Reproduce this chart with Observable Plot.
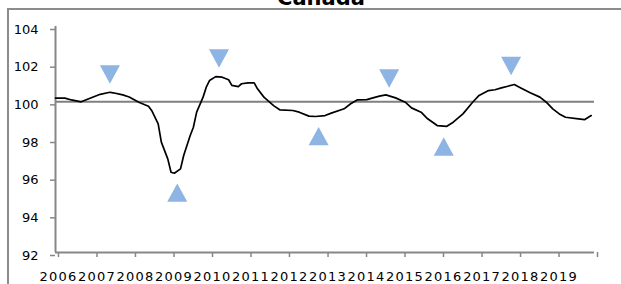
<!DOCTYPE html>
<html>
<head>
<meta charset="utf-8">
<script src="https://cdn.jsdelivr.net/npm/d3@7"></script>
<script src="https://cdn.jsdelivr.net/npm/@observablehq/plot@0.6"></script>
<style>
  html, body { margin: 0; padding: 0; background: #fff; }
  #wrap { position: relative; width: 621px; height: 284px; overflow: hidden; background: #fff; }
  #frame { position: absolute; left: 7px; top: 8px; width: 800px; height: 500px; border: 2px solid #8c8c8c; box-sizing: border-box; }
  #title { position: absolute; left: 0; width: 642px; top: -14px; text-align: center; font: bold 21px "DejaVu Sans", sans-serif; color: #000; line-height: 24px; }
  #chart { position: absolute; left: 0; top: 0; }
</style>
</head>
<body>
<div id="wrap">
  <div id="frame"></div>
  <div id="title">Canada</div>
  <div id="chart"></div>
</div>
<script>
// Monthly index (Canada)
const months = ["2006-01","2006-04","2006-06","2006-09","2006-12","2007-03","2007-06","2007-07","2007-10","2007-12",
  "2008-03","2008-06","2008-07","2008-09","2008-10","2008-12","2009-01","2009-02","2009-04","2009-05",
  "2009-07","2009-08","2009-09","2009-11","2009-12","2010-01","2010-03","2010-05","2010-07","2010-08",
  "2010-10","2010-11","2011-01","2011-03","2011-04","2011-06","2011-09","2011-11","2012-03","2012-05",
  "2012-08","2012-10","2013-01","2013-03","2013-07","2013-09","2013-11","2014-02","2014-04","2014-06",
  "2014-08","2014-11","2015-02","2015-04","2015-07","2015-09","2015-12","2016-03","2016-05","2016-08",
  "2016-11","2017-01","2017-04","2017-06","2017-08","2017-10","2017-12","2018-02","2018-05","2018-08",
  "2018-10","2018-12","2019-02","2019-04","2019-08","2019-10","2019-12"];
const values = [100.2,100.2,100.1,100.0,100.2,100.4,100.51,100.48,100.37,100.26,
  99.98,99.77,99.54,98.83,97.86,96.97,96.26,96.21,96.44,97.15,
  98.2,98.65,99.45,100.25,100.78,101.13,101.34,101.31,101.17,100.87,
  100.81,100.96,101.01,101.01,100.69,100.25,99.8,99.57,99.54,99.45,
  99.24,99.22,99.27,99.4,99.63,99.9,100.1,100.12,100.21,100.3,
  100.37,100.21,99.98,99.68,99.45,99.1,98.74,98.7,98.92,99.36,
  99.98,100.34,100.6,100.64,100.74,100.83,100.92,100.74,100.48,100.25,
  99.98,99.63,99.36,99.18,99.1,99.06,99.27];

// Turning-point markers
const peakMonths = ["2007-06","2010-04","2014-09","2017-11"];
const peakValues = [101.45,102.3,101.24,101.9];
const troughMonths = ["2009-03","2012-11","2016-02"];
const troughValues = [95.18,98.18,97.63];

// Axis ticks
const yTicks = [92,94,96,98,100,102,104];
const xTickYears = [2006,2007,2008,2009,2010,2011,2012,2013,2014,2015,2016,2017,2018,2019,2020];
const xLabelYears = [2006,2007,2008,2009,2010,2011,2012,2013,2014,2015,2016,2017,2018,2019];
const refValue = 100;

const parseMonth = s => { const [y, m] = s.split("-").map(Number); return new Date(Date.UTC(y, m - 1, 1)); };
const series = months.map((m, i) => ({date: parseMonth(m), value: values[i]}));
const peaks = peakMonths.map((m, i) => ({date: parseMonth(m), value: peakValues[i]}));
const troughs = troughMonths.map((m, i) => ({date: parseMonth(m), value: troughValues[i]}));
const xTicks = xTickYears.map(y => new Date(Date.UTC(y, 0, 1)));

const triUp = {draw(ctx) { ctx.moveTo(0, -9.2); ctx.lineTo(10, 9.2); ctx.lineTo(-10, 9.2); ctx.closePath(); }};
const triDown = {draw(ctx) { ctx.moveTo(0, 9.2); ctx.lineTo(10, -9.2); ctx.lineTo(-10, -9.2); ctx.closePath(); }};

const axisColor = "#878787";
const markerColor = "#8db4e2";

const chart = Plot.plot({
  width: 621,
  height: 284,
  marginLeft: 55,
  marginRight: 27,
  marginTop: 26,
  marginBottom: 32,
  style: {background: "transparent", fontFamily: "DejaVu Sans, sans-serif", fontSize: "13px", color: "#000"},
  x: {type: "utc", domain: [xTicks[0], xTicks[xTicks.length - 1]]},
  y: {domain: [92, 104]},
  marks: [
    Plot.ruleY([refValue], {stroke: "#808080", strokeWidth: 2}),
    Plot.ruleX([xTicks[0]], {stroke: axisColor, strokeWidth: 2}),
    Plot.ruleY([92], {stroke: axisColor, strokeWidth: 2}),
    Plot.axisY({ticks: yTicks, tickSize: 5, tickPadding: 12, stroke: axisColor, strokeWidth: 1.5,
      tickFormat: d => String(d), dy: 3, fill: "#000", label: null}),
    Plot.axisX({ticks: xTicks, tickSize: 5, tickPadding: 14, stroke: axisColor, strokeWidth: 1.5,
      tickFormat: d => xLabelYears.includes(d.getUTCFullYear()) ? String(d.getUTCFullYear()) : "",
      fill: "#000", label: null, textAnchor: "middle", dx: 3}),
    Plot.line(series, {x: "date", y: "value", stroke: "#000", strokeWidth: 1.7, curve: "linear"}),
    Plot.dot(peaks, {x: "date", y: "value", symbol: triDown, fill: markerColor, r: 8}),
    Plot.dot(troughs, {x: "date", y: "value", symbol: triUp, fill: markerColor, r: 8})
  ]
});
chart.querySelectorAll("g[aria-label='x-axis tick label'] text").forEach(t => t.setAttribute("letter-spacing", "1.2"));
document.getElementById("chart").appendChild(chart);
</script>
</body>
</html>
